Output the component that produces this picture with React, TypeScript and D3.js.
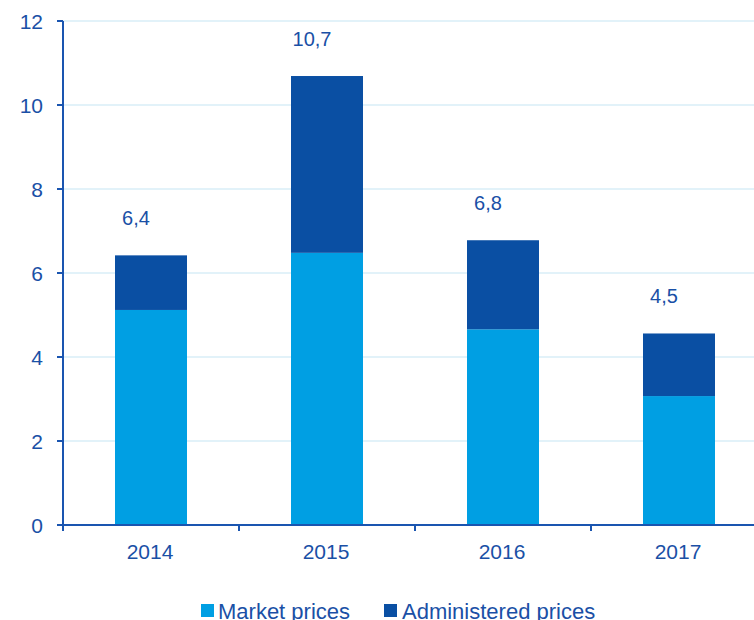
import React from "react";
import * as d3 from "d3";

const years = ["2014", "2015", "2016", "2017"];
const marketPrices = [5.12, 6.48, 4.66, 3.07];
const administeredPrices = [1.3, 4.21, 2.12, 1.49];
const totalLabels = ["6,4", "10,7", "6,8", "4,5"];
const yTicks = [0, 2, 4, 6, 8, 10, 12];
const seriesNames = ["Market prices", "Administered prices"];

const W = 754;
const H = 620;
const left = 63;
const top = 21;
const bottom = 525;
const COLOR_MARKET = "#009fe3";
const COLOR_ADMIN = "#0a4fa3";
const TEXT = "#1a50a6";
const AXIS = "#1a55b0";
const GRID = "#c6e6f3";
const FONT = "Liberation Sans, Arial, sans-serif";

export default function App() {
  const x = d3.scaleBand<string>().domain(years).range([left, left + 176 * 4]).padding(0);
  const y = d3.scaleLinear().domain([0, 12]).range([bottom, top]);
  const barW = 72;
  const barOff = 52;

  const rows = years.map((yr, i) => ({
    year: yr,
    market: marketPrices[i],
    admin: administeredPrices[i],
  }));
  const stack = d3.stack<any>().keys(["market", "admin"])(rows);
  const colors = [COLOR_MARKET, COLOR_ADMIN];

  return (
    <svg
      width={W}
      height={H}
      style={{ position: "absolute", left: 0, top: 0, display: "block" }}
      fontFamily={FONT}
    >
      <rect width={W} height={H} fill="#fff" />
      {yTicks.filter((t) => t > 0).map((t) => (
        <line key={"g" + t} x1={left} x2={W} y1={y(t)} y2={y(t)} stroke={GRID} strokeWidth={1.2} />
      ))}
      {stack.map((layer, li) =>
        layer.map((d, i) => (
          <rect
            key={li + "-" + i}
            x={(x(years[i]) as number) + barOff}
            width={barW}
            y={y(d[1])}
            height={y(d[0]) - y(d[1])}
            fill={colors[li]}
          />
        ))
      )}
      {/* y axis */}
      <line x1={left} x2={left} y1={top} y2={bottom + 6} stroke={AXIS} strokeWidth={2} />
      {yTicks.map((t) => (
        <g key={"t" + t}>
          <line x1={left - 6} x2={left} y1={y(t)} y2={y(t)} stroke={AXIS} strokeWidth={2} />
          <text x={43} y={y(t) + 7.5} textAnchor="end" fontSize={21} fill={TEXT}>
            {t}
          </text>
        </g>
      ))}
      {/* x axis */}
      <line x1={left} x2={W} y1={bottom} y2={bottom} stroke={AXIS} strokeWidth={2} />
      {years.map((yr) => (
        <g key={"x" + yr}>
          <line
            x1={x(yr) as number}
            x2={x(yr) as number}
            y1={bottom}
            y2={bottom + 6}
            stroke={AXIS}
            strokeWidth={2}
          />
          <text
            x={(x(yr) as number) + x.bandwidth() / 2 - 1}
            y={559}
            textAnchor="middle"
            fontSize={21}
            fill={TEXT}
          >
            {yr}
          </text>
        </g>
      ))}
      {/* total labels */}
      {years.map((yr, i) => (
        <text
          key={"l" + yr}
          x={(x(yr) as number) + barOff + barW / 2 - 15}
          y={y(marketPrices[i] + administeredPrices[i]) - 30}
          textAnchor="middle"
          fontSize={20}
          fill={TEXT}
        >
          {totalLabels[i]}
        </text>
      ))}
      {/* legend */}
      <rect x={201} y={604} width={13} height={13} fill={COLOR_MARKET} />
      <text x={218} y={619} fontSize={22} fill={TEXT}>
        {seriesNames[0]}
      </text>
      <rect x={384} y={604} width={13} height={13} fill={COLOR_ADMIN} />
      <text x={402} y={619} fontSize={22} fill={TEXT}>
        {seriesNames[1]}
      </text>
    </svg>
  );
}
